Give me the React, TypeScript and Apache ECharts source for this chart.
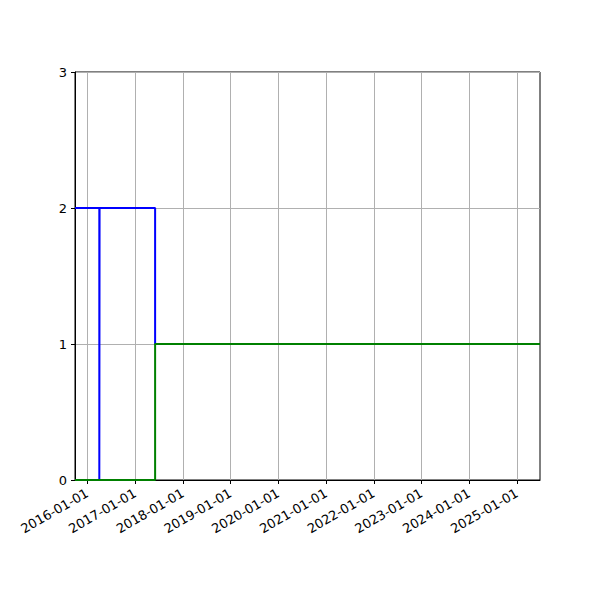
import { useEffect, useRef } from "react";
import * as echarts from "echarts";

const X_MIN = "2015-09-29";
const X_MAX = "2025-06-26";

const YEAR_TICKS = [
  "2016-01-01", "2017-01-01", "2018-01-01", "2019-01-01", "2020-01-01",
  "2021-01-01", "2022-01-01", "2023-01-01", "2024-01-01", "2025-01-01",
];

const BLUE_DATES = ["2015-09-29", "2016-04-02", "2016-04-04", "2017-06-03", "2025-06-26"];
const BLUE_VALUES = [2, 0, 2, 1, 1];

const GREEN_DATES = ["2015-09-29", "2017-06-03", "2025-06-26"];
const GREEN_VALUES = [0, 1, 1];

const Y_TICKS = [0, 1, 2, 3];

const ts = (d: string) => new Date(d + "T00:00:00Z").getTime();

export default function App() {
  const chartRef = useRef<HTMLDivElement>(null);

  useEffect(() => {
    document.body.style.margin = "0";
    if (!chartRef.current) return;
    const chart = echarts.init(chartRef.current, null, { renderer: "svg" });
    const tickValues = YEAR_TICKS.map(ts);
    const font = "DejaVu Sans";

    chart.setOption({
      animation: false,
      backgroundColor: "#ffffff",
      grid: {
        left: 75,
        right: 60,
        top: 72,
        bottom: 120,
        show: true,
        borderColor: "#000000",
        borderWidth: 1,
        backgroundColor: "transparent",
      },
      xAxis: {
        type: "value",
        min: ts(X_MIN),
        max: ts(X_MAX),
        axisLine: { show: true, onZero: false, lineStyle: { color: "#000000", width: 1 } },
        axisTick: {
          show: true,
          length: 4,
          lineStyle: { color: "#000000", width: 1 },
          customValues: tickValues,
        },
        axisLabel: {
          customValues: tickValues,
          rotate: 30,
          color: "#000000",
          fontFamily: font,
          fontSize: 13,
          margin: 12,
          formatter: (v: number) => {
            const d = new Date(v);
            const y = d.getUTCFullYear();
            const m = String(d.getUTCMonth() + 1).padStart(2, "0");
            const dd = String(d.getUTCDate()).padStart(2, "0");
            return `${y}-${m}-${dd}`;
          },
        },
        splitLine: { show: true, lineStyle: { color: "#b0b0b0", width: 1 } },
      },
      yAxis: {
        type: "value",
        min: Y_TICKS[0],
        max: Y_TICKS[Y_TICKS.length - 1],
        interval: 1,
        axisLine: { show: true, lineStyle: { color: "#000000", width: 1 } },
        axisTick: { show: true, length: 4, lineStyle: { color: "#000000", width: 1 } },
        axisLabel: { color: "#000000", fontFamily: font, fontSize: 13, margin: 8 },
        splitLine: { show: true, lineStyle: { color: "#b0b0b0", width: 1 } },
      },
      series: [
        {
          type: "line",
          step: "end",
          symbol: "none",
          data: BLUE_DATES.map((d, i) => [ts(d), BLUE_VALUES[i]]),
          lineStyle: { color: "#0000ff", width: 2 },
          z: 3,
        },
        {
          type: "line",
          step: "end",
          symbol: "none",
          data: GREEN_DATES.map((d, i) => [ts(d), GREEN_VALUES[i]]),
          lineStyle: { color: "#008000", width: 2 },
          z: 4,
        },
      ],
    });

    return () => chart.dispose();
  }, []);

  return <div ref={chartRef} style={{ width: 600, height: 600 }} />;
}
